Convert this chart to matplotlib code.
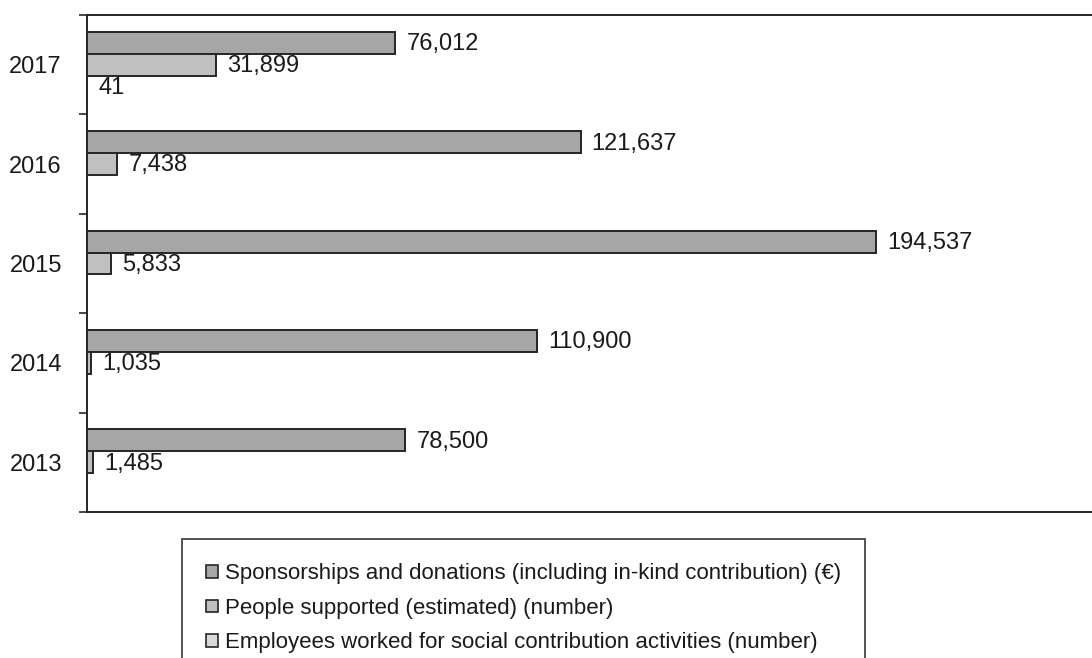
import numpy as np
import matplotlib
matplotlib.use("Agg")
import matplotlib.pyplot as plt
from matplotlib.patches import Patch

years = ["2013", "2014", "2015", "2016", "2017"]
sponsorships = [78500, 110900, 194537, 121637, 76012]
people = [1485, 1035, 5833, 7438, 31899]
employees = [None, None, None, None, 41]

series_names = [
    "Sponsorships and donations (including in-kind contribution) (\u20ac)",
    "People supported (estimated) (number)",
    "Employees worked for social contribution activities (number)",
]
colors = ["#a6a6a6", "#c0c0c0", "#d9d9d9"]

num_font = ["Liberation Sans", "DejaVu Sans"]
leg_font = ["Liberation Sans", "DejaVu Sans"]

W, H = 1092, 658
fig = plt.figure(figsize=(W / 100, H / 100), dpi=100)
ax = fig.add_axes([87 / W, (H - 512) / H, 1063 / W, (512 - 15) / H])

y = np.arange(len(years))
bh = 0.22
offsets = [bh, 0, -bh]

for vals, off, col in zip([sponsorships, people, employees], offsets, colors):
    for yi, v in zip(y, vals):
        if v is None:
            continue
        ax.barh(yi + off, v, height=bh, color=col, edgecolor="#262626",
                linewidth=1.4)
        ax.annotate(f"{v:,}", xy=(v, yi + off), xytext=(8, -1),
                    textcoords="offset points", va="center", ha="left",
                    fontsize=17, family=num_font, color="#1a1a1a")

ax.set_xlim(0, 262000)
ax.set_ylim(-0.5, len(years) - 0.5)

ax.set_yticks(y)
ax.set_yticklabels(years, family=num_font, fontsize=17, color="#1a1a1a")
ax.tick_params(axis="y", which="major", length=0, pad=18)
ax.set_yticks(np.arange(-0.5, len(years)), minor=True)
ax.tick_params(axis="y", which="minor", length=5.5, width=1.2,
               color="#262626", direction="out")
ax.set_xticks([])

for side in ["left", "top", "bottom"]:
    ax.spines[side].set_color("#262626")
    ax.spines[side].set_linewidth(1.4)
ax.spines["right"].set_visible(False)

handles = [Patch(facecolor=c, edgecolor="#262626", linewidth=1.2) for c in colors]
leg = fig.legend(handles, series_names, loc="upper left",
                 bbox_to_anchor=(182 / W, 1 - 539 / H),
                 prop={"family": leg_font, "size": 16},
                 frameon=True, fancybox=False, edgecolor="#262626",
                 handlelength=0.5, handleheight=0.5, handletextpad=0.33,
                 labelspacing=0.6, borderpad=1.1, borderaxespad=0)
leg.get_frame().set_linewidth(1.4)
for t in leg.get_texts():
    t.set_color("#1a1a1a")

fig.savefig("out.png", dpi=100)
